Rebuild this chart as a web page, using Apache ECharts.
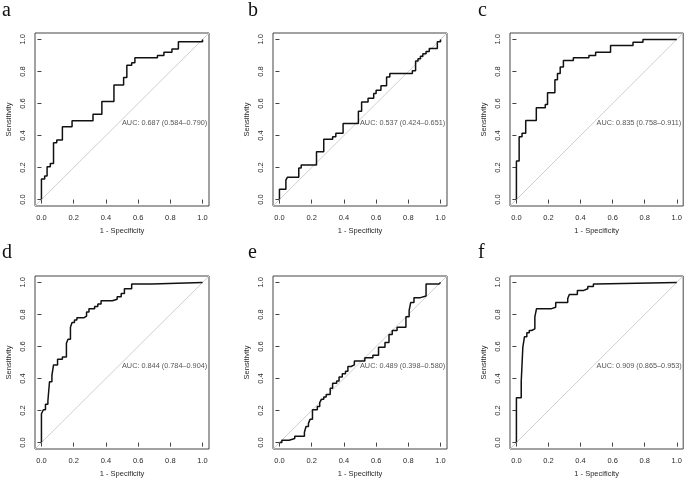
<!DOCTYPE html>
<html><head><meta charset="utf-8">
<script src="https://cdn.jsdelivr.net/npm/echarts@6/dist/echarts.min.js"></script>
<style>html,body{margin:0;padding:0;background:#fff}#c{width:685px;height:480px}</style>
</head><body><div id="c"></div><script>
// ---- data ----
const panelLetters = ['a', 'b', 'c', 'd', 'e', 'f'];
const aucLabels = [
  'AUC: 0.687 (0.584\u20130.790)',
  'AUC: 0.537 (0.424\u20130.651)',
  'AUC: 0.835 (0.758\u20130.911)',
  'AUC: 0.844 (0.784\u20130.904)',
  'AUC: 0.489 (0.398\u20130.580)',
  'AUC: 0.909 (0.865\u20130.953)'
];
const tickValues = [0, 0.2, 0.4, 0.6, 0.8, 1.0];
const tickLabels = ['0.0', '0.2', '0.4', '0.6', '0.8', '1.0'];
const xTitle = '1 - Specificity';
const yTitle = 'Sensitivity';

// ROC step points: 1 - specificity where sensitivity rises, and new sensitivity level
const fprA = [0, 0, 0.02, 0.035, 0.055, 0.075, 0.095, 0.13, 0.19, 0.32, 0.375, 0.45, 0.51, 0.53, 0.56, 0.58, 0.72, 0.76, 0.81, 0.85, 1];
const tprA = [0, 0.128, 0.148, 0.205, 0.225, 0.355, 0.372, 0.455, 0.492, 0.533, 0.613, 0.715, 0.762, 0.838, 0.855, 0.885, 0.9, 0.92, 0.94, 0.985, 1];

const fprB = [0, 0, 0.04, 0.05, 0.12, 0.135, 0.23, 0.275, 0.33, 0.35, 0.395, 0.49, 0.51, 0.55, 0.585, 0.6, 0.63, 0.665, 0.685, 0.825, 0.845, 0.86, 0.875, 0.89, 0.91, 0.93, 0.98, 1];
const tprB = [0, 0.065, 0.122, 0.14, 0.197, 0.216, 0.298, 0.376, 0.393, 0.414, 0.475, 0.552, 0.61, 0.632, 0.663, 0.682, 0.71, 0.766, 0.787, 0.805, 0.865, 0.88, 0.895, 0.91, 0.925, 0.943, 0.985, 1];

const fprC = [0, 0, 0.017, 0.035, 0.058, 0.124, 0.18, 0.194, 0.24, 0.256, 0.273, 0.293, 0.355, 0.452, 0.494, 0.587, 0.727, 0.789, 1];
const tprC = [0, 0.241, 0.393, 0.414, 0.493, 0.574, 0.593, 0.667, 0.748, 0.787, 0.828, 0.868, 0.885, 0.9, 0.92, 0.962, 0.982, 1, 1];

const fprD = [0, 0, 0.012, 0.025, 0.04, 0.05, 0.065, 0.075, 0.1, 0.13, 0.155, 0.165, 0.18, 0.19, 0.205, 0.22, 0.265, 0.28, 0.295, 0.33, 0.35, 0.37, 0.44, 0.47, 0.495, 0.515, 0.56, 0.685, 1];
const tprD = [0, 0.18, 0.205, 0.24, 0.26, 0.38, 0.42, 0.485, 0.52, 0.535, 0.62, 0.645, 0.72, 0.75, 0.765, 0.78, 0.79, 0.815, 0.835, 0.85, 0.865, 0.885, 0.895, 0.91, 0.93, 0.96, 0.99, 1, 1];

const fprE = [0, 0.015, 0.06, 0.095, 0.155, 0.165, 0.18, 0.19, 0.205, 0.235, 0.25, 0.26, 0.275, 0.29, 0.315, 0.33, 0.355, 0.37, 0.39, 0.41, 0.425, 0.445, 0.465, 0.53, 0.58, 0.615, 0.655, 0.68, 0.7, 0.73, 0.785, 0.805, 0.815, 0.835, 0.875, 0.91, 0.99, 1];
const tprE = [0, 0.015, 0.025, 0.04, 0.065, 0.1, 0.12, 0.145, 0.205, 0.225, 0.25, 0.27, 0.285, 0.3, 0.34, 0.37, 0.385, 0.41, 0.43, 0.445, 0.475, 0.485, 0.51, 0.53, 0.545, 0.595, 0.625, 0.675, 0.7, 0.72, 0.785, 0.825, 0.875, 0.905, 0.915, 0.99, 1, 1];

const fprF = [0, 0, 0.03, 0.04, 0.05, 0.065, 0.08, 0.095, 0.115, 0.125, 0.215, 0.245, 0.32, 0.33, 0.38, 0.42, 0.445, 0.48, 0.495, 1];
const tprF = [0, 0.28, 0.38, 0.595, 0.66, 0.685, 0.7, 0.71, 0.785, 0.835, 0.845, 0.875, 0.9, 0.925, 0.95, 0.96, 0.975, 0.99, 1, 1];

const fprList = [fprA, fprB, fprC, fprD, fprE, fprF];
const tprList = [tprA, tprB, tprC, tprD, tprE, tprF];
const aucPos = [0.5, 0.478];
const diagEnds = [-0.04, 1.04];

// ---- layout ----
const colLeft = [35, 273, 510];
const rowTop = [33, 276];
const boxW = 174, boxH = 173;
const FONT = "'Liberation Sans', Arial, sans-serif";
const TXT = '#2a2a2a';

const chart = echarts.init(document.getElementById('c'), null, { renderer: 'canvas' });
const grids = [], xAxes = [], yAxes = [], series = [], graphics = [];

for (let i = 0; i < 6; i++) {
  const col = i % 3, row = Math.floor(i / 3);
  grids.push({
    left: colLeft[col], top: rowTop[row], width: boxW, height: boxH,
    show: true, borderColor: '#444', borderWidth: 1, backgroundColor: 'transparent'
  });
  const common = {
    gridIndex: i, type: 'value', min: -0.04, max: 1.04,
    splitLine: { show: false },
    axisLine: { show: false },
    axisTick: { show: true, customValues: tickValues, length: 4, lineStyle: { color: '#444' } },
    nameLocation: 'middle',
    nameTextStyle: { fontFamily: FONT, fontSize: 7.5, color: TXT }
  };
  xAxes.push(Object.assign({}, common, {
    position: 'bottom',
    name: xTitle, nameGap: 21,
    axisLabel: {
      customValues: tickValues, margin: 8, fontFamily: FONT, fontSize: 7.5, color: TXT,
      formatter: v => tickLabels[tickValues.findIndex(t => Math.abs(t - v) < 1e-6)]
    }
  }));
  yAxes.push(Object.assign({}, common, {
    position: 'left',
    name: yTitle, nameGap: 22,
    axisLabel: {
      customValues: tickValues, margin: 8, rotate: 90, fontFamily: FONT, fontSize: 7.5, color: TXT,
      formatter: v => tickLabels[tickValues.findIndex(t => Math.abs(t - v) < 1e-6)]
    }
  }));
  // diagonal reference
  series.push({
    type: 'line', xAxisIndex: i, yAxisIndex: i, silent: true, showSymbol: false,
    data: [[diagEnds[0], diagEnds[0]], [diagEnds[1], diagEnds[1]]],
    lineStyle: { color: '#cfcfcf', width: 1 }, animation: false, clip: true
  });
  // ROC curve
  const fpr = fprList[i], tpr = tprList[i];
  series.push({
    type: 'line', xAxisIndex: i, yAxisIndex: i, step: 'end', showSymbol: false,
    data: fpr.map((x, k) => [x, tpr[k]]),
    lineStyle: { color: '#111', width: 1.5 }, animation: false, clip: true
  });
  // AUC text
  series.push({
    type: 'scatter', xAxisIndex: i, yAxisIndex: i, symbolSize: 0, silent: true,
    data: [aucPos],
    label: {
      show: true, position: 'right', distance: 0, formatter: aucLabels[i],
      fontFamily: FONT, fontSize: 7.3, color: TXT, verticalAlign: 'middle'
    },
    animation: false
  });
  graphics.push({
    type: 'text',
    x: [2, 248, 478][col], y: [1, 243][row],
    style: { text: panelLetters[i], font: "20px 'Liberation Serif', 'Times New Roman', serif", fill: '#111' }
  });
}

chart.setOption({
  backgroundColor: '#fff',
  animation: false,
  grid: grids, xAxis: xAxes, yAxis: yAxes, series: series,
  graphic: graphics
});
</script></body></html>
